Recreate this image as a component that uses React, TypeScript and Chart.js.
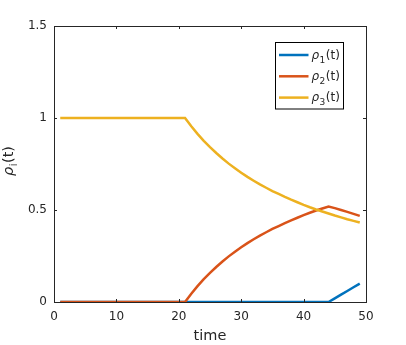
import React, { useEffect, useRef } from 'react';
import { Chart, registerables } from 'chart.js';

Chart.register(...registerables);

const time = [1, 2, 3, 4, 5, 6, 7, 8, 9, 10, 11, 12, 13, 14, 15, 16, 17, 18, 19, 20, 21, 22, 23, 24, 25, 26, 27, 28, 29, 30, 31, 32, 33, 34, 35, 36, 37, 38, 39, 40, 41, 42, 43, 44, 45, 46, 47, 48, 49];

const rho1 = [0, 0, 0, 0, 0, 0, 0, 0, 0, 0, 0, 0, 0, 0, 0, 0, 0, 0, 0, 0, 0, 0, 0, 0, 0, 0, 0, 0, 0, 0, 0, 0, 0, 0, 0, 0, 0, 0, 0, 0, 0, 0, 0, 0, 0.02, 0.04, 0.06, 0.08, 0.1];

const rho2 = [0, 0, 0, 0, 0, 0, 0, 0, 0, 0, 0, 0, 0, 0, 0, 0, 0, 0, 0, 0, 0, 0.045, 0.086, 0.124, 0.158, 0.19, 0.22, 0.248, 0.273, 0.297, 0.32, 0.341, 0.361, 0.379, 0.397, 0.413, 0.429, 0.444, 0.458, 0.472, 0.485, 0.497, 0.508, 0.519, 0.51, 0.5, 0.49, 0.479, 0.468];

const rho3 = [1, 1, 1, 1, 1, 1, 1, 1, 1, 1, 1, 1, 1, 1, 1, 1, 1, 1, 1, 1, 1, 0.955, 0.914, 0.876, 0.842, 0.81, 0.78, 0.752, 0.727, 0.703, 0.68, 0.659, 0.639, 0.621, 0.603, 0.587, 0.571, 0.556, 0.542, 0.528, 0.515, 0.503, 0.492, 0.481, 0.47, 0.46, 0.45, 0.441, 0.432];

const seriesSubscripts = ['1', '2', '3'];
const seriesColors = ['#0072BD', '#D95319', '#EDB120'];
const xTicks = [0, 10, 20, 30, 40, 50];
const yTicks = [0, 0.5, 1, 1.5];
const xTitle = 'time';

const AXIS = '#262626';
const FONT = "'DejaVu Sans', sans-serif";

function drawRho(ctx: CanvasRenderingContext2D, x: number, y: number, sub: string, size: number, subSize: number, subDrop: number) {
  ctx.font = `italic ${size}px ${FONT}`;
  ctx.fillText('ρ', x, y);
  x += ctx.measureText('ρ').width + 0.5;
  ctx.font = `${subSize}px ${FONT}`;
  ctx.fillText(sub, x, y + subDrop);
  x += ctx.measureText(sub).width + 0.5;
  ctx.font = `${size}px ${FONT}`;
  ctx.fillText('(t)', x, y);
  x += ctx.measureText('(t)').width;
  return x;
}

function rhoWidth(ctx: CanvasRenderingContext2D, sub: string, size: number, subSize: number) {
  ctx.font = `italic ${size}px ${FONT}`;
  let w = ctx.measureText('ρ').width + 0.5;
  ctx.font = `${subSize}px ${FONT}`;
  w += ctx.measureText(sub).width + 0.5;
  ctx.font = `${size}px ${FONT}`;
  w += ctx.measureText('(t)').width;
  return w;
}

const framePlugin = {
  id: 'frame',
  afterDatasetsDraw(chart: any) {
    const { ctx, chartArea: a, scales } = chart;
    ctx.save();
    ctx.strokeStyle = AXIS;
    ctx.lineWidth = 1;
    ctx.strokeRect(a.left + 0.5, a.top + 0.5, a.right - a.left, a.bottom - a.top);
    const tl = 3;
    ctx.beginPath();
    xTicks.forEach((v) => {
      const px = Math.round(scales.x.getPixelForValue(v)) + 0.5;
      ctx.moveTo(px, a.bottom);
      ctx.lineTo(px, a.bottom - tl);
      ctx.moveTo(px, a.top);
      ctx.lineTo(px, a.top + tl);
    });
    yTicks.forEach((v) => {
      const py = Math.round(scales.y.getPixelForValue(v)) + 0.5;
      ctx.moveTo(a.left, py);
      ctx.lineTo(a.left + tl, py);
      ctx.moveTo(a.right, py);
      ctx.lineTo(a.right - tl, py);
    });
    ctx.stroke();

    // x title
    ctx.fillStyle = AXIS;
    ctx.textAlign = 'center';
    ctx.textBaseline = 'alphabetic';
    ctx.font = `14.5px ${FONT}`;
    ctx.fillText(xTitle, (a.left + a.right) / 2, 340);

    // y title (rotated)
    ctx.save();
    ctx.translate(13, (a.top + a.bottom) / 2 - 3);
    ctx.rotate(-Math.PI / 2);
    ctx.textAlign = 'left';
    const w = rhoWidth(ctx, 'i', 14.5, 10);
    drawRho(ctx, -w / 2, 0, 'i', 14.5, 10, 4);
    ctx.restore();

    // legend
    const bx = 275.5, by = 42.5, bw = 68, bh = 66.5;
    ctx.fillStyle = '#ffffff';
    ctx.fillRect(bx, by, bw, bh);
    ctx.strokeStyle = '#000000';
    ctx.lineWidth = 1;
    ctx.strokeRect(bx, by, bw, bh);
    chart.data.datasets.forEach((ds: any, i: number) => {
      const y = 55 + i * 21.3;
      ctx.strokeStyle = ds.borderColor;
      ctx.lineWidth = 2.5;
      ctx.beginPath();
      ctx.moveTo(279, y);
      ctx.lineTo(308.5, y);
      ctx.stroke();
      ctx.fillStyle = AXIS;
      ctx.textAlign = 'left';
      ctx.textBaseline = 'alphabetic';
      drawRho(ctx, 311.5, y + 3.5, seriesSubscripts[i], 12, 9, 4);
    });
    ctx.restore();
  },
};

export default function App() {
  const ref = useRef<HTMLCanvasElement | null>(null);
  useEffect(() => {
    if (!ref.current) return;
    const series = [rho1, rho2, rho3];
    const chart = new Chart(ref.current, {
      type: 'line',
      data: {
        datasets: series.map((s, i) => ({
          label: `ρ${seriesSubscripts[i]}(t)`,
          data: time.map((t, j) => ({ x: t, y: s[j] })),
          borderColor: seriesColors[i],
          backgroundColor: seriesColors[i],
          borderWidth: 2.5,
          pointRadius: 0,
          tension: 0,
          order: 2 - i,
        })),
      },
      options: {
        responsive: false,
        animation: false,
        devicePixelRatio: 1,
        layout: { padding: { top: 26, right: 40, left: 0, bottom: 0 } },
        plugins: { legend: { display: false }, tooltip: { enabled: false } },
        scales: {
          x: {
            type: 'linear',
            min: 0,
            max: 50,
            afterBuildTicks: (s: any) => { s.ticks = xTicks.map((v) => ({ value: v })); },
            afterFit: (s: any) => { s.height = 43; },
            grid: { display: false, drawTicks: false },
            border: { display: false },
            ticks: { color: AXIS, font: { family: FONT, size: 12 }, padding: 8, maxRotation: 0, callback: (v: any) => String(v) },
          },
          y: {
            type: 'linear',
            min: 0,
            max: 1.5,
            afterBuildTicks: (s: any) => { s.ticks = yTicks.map((v) => ({ value: v })); },
            afterFit: (s: any) => { s.width = 54; },
            grid: { display: false, drawTicks: false },
            border: { display: false },
            ticks: { color: AXIS, font: { family: FONT, size: 12 }, padding: 7, callback: (v: any) => String(v) },
          },
        },
      },
      plugins: [framePlugin],
    });
    return () => chart.destroy();
  }, []);
  return (
    <div style={{ position: 'absolute', left: 0, top: 0, width: 406, height: 345, background: '#fff' }}>
      <canvas ref={ref} width={406} height={345} />
    </div>
  );
}
